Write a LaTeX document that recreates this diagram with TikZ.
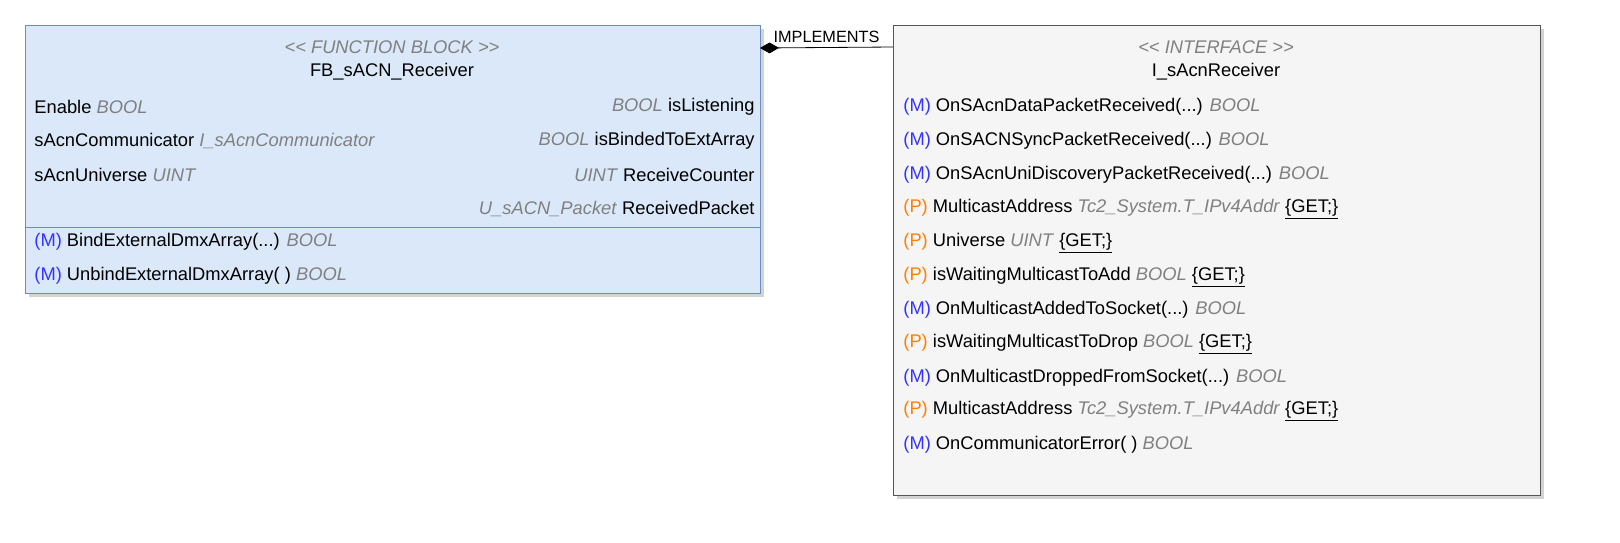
\documentclass[tikz,border=0pt]{standalone}
\usepackage{fontspec}
\setmainfont{Liberation Sans}
\usetikzlibrary{shadows,arrows.meta}
\definecolor{fbfill}{HTML}{DAE8FA}
\definecolor{fbdraw}{HTML}{6C8EBF}
\definecolor{iffill}{HTML}{F5F5F5}
\definecolor{ifdraw}{HTML}{555555}
\definecolor{typegray}{HTML}{808080}
\definecolor{mblue}{HTML}{3333FF}
\definecolor{porange}{HTML}{FF8000}
\newcommand{\ty}[1]{\textcolor{typegray}{\textit{#1}}}
\newcommand{\mt}{\textcolor{mblue}{(M)} }
\newcommand{\pr}{\textcolor{porange}{(P)} }
\newcommand{\getter}{\underline{\{GET;\}}}
\newcommand{\stereo}[1]{\ty{<\kern0pt< #1 >\kern0pt>}}
\begin{document}
\begin{tikzpicture}[x=0.0259cm,y=-0.0259cm,font=\fontsize{13.5}{15}\selectfont,
                    semithick]
  \tikzstyle{row}=[anchor=west,inner sep=0pt]
  \tikzstyle{rrow}=[anchor=east,inner sep=0pt]
  \tikzstyle{box}=[drop shadow={shadow xshift=3pt,shadow yshift=-3pt,opacity=0.35}]

  % function block
  \draw[box,fill=fbfill,draw=fbdraw] (25,25) rectangle (760,293);
  \coordinate (fbedge) at (760,48);
  \draw[fbdraw] (25,227) -- (760,227);
  \node (fbstereo) at (392,47) {\stereo{FUNCTION BLOCK}};
  \node (fbname)   at (392,72) {FB\_sACN\_Receiver};
  \node[row] (in1) at (34,107) {Enable \ty{BOOL}};
  \node[row] (in2) at (34,141) {sAcnCommunicator \ty{I\_sAcnCommunicator}};
  \node[row] (in3) at (34,175) {sAcnUniverse \ty{UINT}};
  \node[rrow] (out1) at (755,107) {\ty{BOOL} isListening};
  \node[rrow] (out2) at (755,141) {\ty{BOOL} isBindedToExtArray};
  \node[rrow] (out3) at (755,175) {\ty{UINT} ReceiveCounter};
  \node[rrow] (out4) at (755,209) {\ty{U\_sACN\_Packet} ReceivedPacket};
  \node[row] (fbm1) at (34,242) {\mt BindExternalDmxArray(...) \ty{BOOL}};
  \node[row] (fbm2) at (34,276) {\mt UnbindExternalDmxArray( ) \ty{BOOL}};

  % interface
  \draw[box,fill=iffill,draw=ifdraw] (893,25) rectangle (1540,495);
  \coordinate (ifedge) at (893,47);
  \node (ifstereo) at (1216,47) {\stereo{INTERFACE}};
  \node (ifname)   at (1216,72) {I\_sAcnReceiver};
  \node[row] (i1)  at (903,107) {\mt OnSAcnDataPacketReceived(...) \ty{BOOL}};
  \node[row] (i2)  at (903,141) {\mt OnSACNSyncPacketReceived(...) \ty{BOOL}};
  \node[row] (i3)  at (903,175) {\mt OnSAcnUniDiscoveryPacketReceived(...) \ty{BOOL}};
  \node[row] (i4)  at (903,209) {\pr MulticastAddress \ty{Tc2\_System.T\_IPv4Addr} \getter};
  \node[row] (i5)  at (903,243) {\pr Universe \ty{UINT} \getter};
  \node[row] (i6)  at (903,277) {\pr isWaitingMulticastToAdd \ty{BOOL} \getter};
  \node[row] (i7)  at (903,310) {\mt OnMulticastAddedToSocket(...) \ty{BOOL}};
  \node[row] (i8)  at (903,344) {\pr isWaitingMulticastToDrop \ty{BOOL} \getter};
  \node[row] (i9)  at (903,378) {\mt OnMulticastDroppedFromSocket(...) \ty{BOOL}};
  \node[row] (i10) at (903,411) {\pr MulticastAddress \ty{Tc2\_System.T\_IPv4Addr} \getter};
  \node[row] (i11) at (903,445) {\mt OnCommunicatorError( ) \ty{BOOL}};

  \draw[{Diamond[length=14pt,width=8pt]}-] (fbedge) -- node[above,pos=0.5,inner sep=3pt,font=\fontsize{12}{14}\selectfont] {IMPLEMENTS} (ifedge);

  \pgfresetboundingbox
  \useasboundingbox (0,0) rectangle (1620,542);
\end{tikzpicture}
\end{document}
